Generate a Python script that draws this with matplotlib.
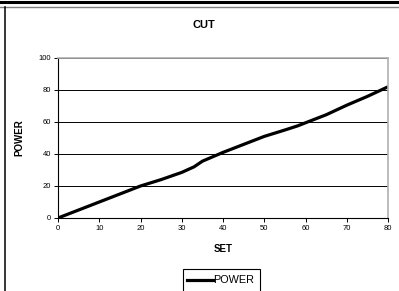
import matplotlib
matplotlib.use("Agg")
import matplotlib.pyplot as plt
from matplotlib.lines import Line2D
from matplotlib.patches import Rectangle

plt.rcParams['font.family'] = ['Liberation Sans', 'DejaVu Sans']

# values
set_vals = [0, 5, 10, 15, 20, 25, 30, 33, 35, 40, 45, 50, 55, 58, 60, 65, 70, 75, 80]
power_vals = [0, 5, 10, 15, 20, 24, 28.5, 32, 35.5, 41, 46, 51, 55, 57.5, 59.5, 64.5, 70.5, 76, 82]
x_ticks = [0, 10, 20, 30, 40, 50, 60, 70, 80]
y_ticks = [0, 20, 40, 60, 80, 100]
series_name = 'POWER'

W, H = 399, 291
fig = plt.figure(figsize=(W / 100, H / 100), dpi=100)

# plot area in pixels: left 58, right 388, top 58, bottom 218
ax = fig.add_axes([58 / W, (H - 218) / H, 330 / W, 160 / H])
ax.plot(set_vals, power_vals, color='black', lw=2.3, label=series_name, solid_capstyle='butt')
ax.set_xlim(0, 80)
ax.set_ylim(0, 100)
ax.set_xticks(x_ticks)
ax.set_yticks(y_ticks)
ax.tick_params(labelsize=5.5, length=3, width=0.7, pad=2, colors='black')
ax.yaxis.grid(True, color='black', lw=0.7)
ax.set_axisbelow(True)
for s in ['left', 'bottom']:
    ax.spines[s].set_color('black')
    ax.spines[s].set_linewidth(0.8)
for s in ['top', 'right']:
    ax.spines[s].set_color('#b0b0b0')
    ax.spines[s].set_linewidth(1.2)

ax.set_xlabel('SET', fontsize=7, fontweight='bold', labelpad=9)
ax.set_ylabel('POWER', fontsize=7, fontweight='bold', labelpad=10)

fig.text(204 / W, 1 - 25 / H, 'CUT', ha='center', va='center', fontsize=8, fontweight='bold')

# legend box, its bottom runs past the edge of the picture like in the original
px = fig.transFigure
fig.add_artist(Rectangle((183 / W, -10 / H), 77 / W, (H - 269 + 10) / H, transform=px,
                         facecolor='white', edgecolor='black', lw=0.8))
fig.add_artist(Line2D([187 / W, 213 / W], [1 - 280 / H, 1 - 280 / H], color='black', lw=2.3,
                      transform=px))
fig.text(213 / W, 1 - 280 / H, series_name, ha='left', va='center', fontsize=7.8)

# outer frame of the chart area
fig.add_artist(Line2D([0, 1], [1 - 1.5 / H, 1 - 1.5 / H], color='black', lw=2.2, transform=px))
fig.add_artist(Line2D([0, 1], [1 - 6.5 / H, 1 - 6.5 / H], color='#808080', lw=1, transform=px))
fig.add_artist(Line2D([4.5 / W, 4.5 / W], [0, 1 - 6.5 / H], color='black', lw=1.1, transform=px))

fig.savefig('out.png', dpi=100)
